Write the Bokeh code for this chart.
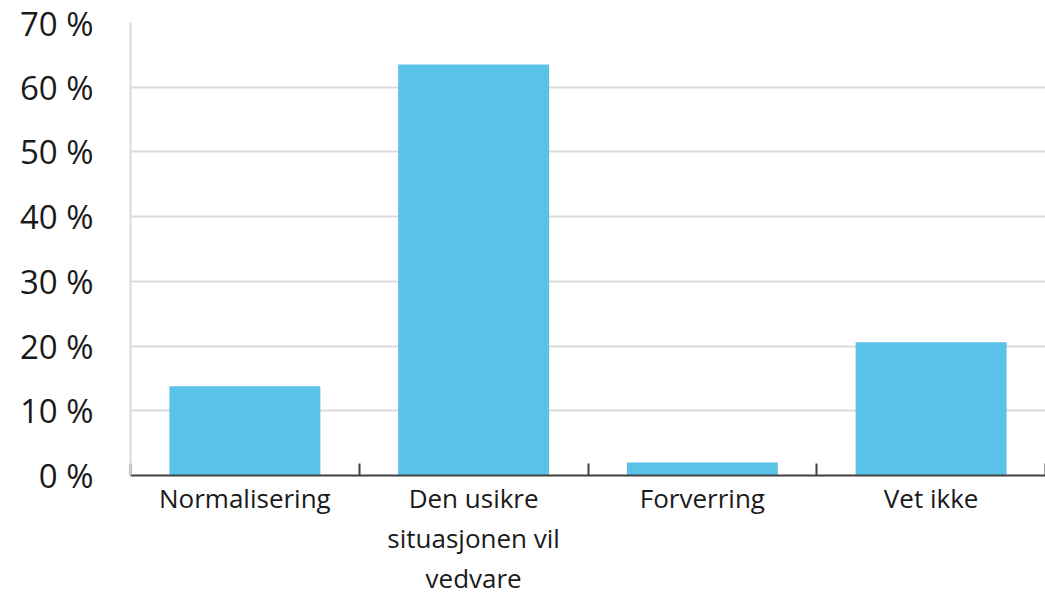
from bokeh.plotting import figure
from bokeh.models import Range1d, FixedTicker, CustomJSTickFormatter, ColumnDataSource
from bokeh.embed import file_html
from bokeh.resources import INLINE

categories = ["Normalisering", "Den usikre\nsituasjonen vil\nvedvare", "Forverring", "Vet ikke"]
values = [13.8, 63.5, 2.0, 20.6]
y_ticks = [0, 10, 20, 30, 40, 50, 60, 70]

FONT = "Open Sans"
TXT = "#1a1a1a"

n = len(categories)
centers = [i + 0.5 for i in range(n)]
bounds = list(range(n + 1))

p = figure(width=1045, height=599, output_backend="svg", toolbar_location=None,
           x_range=Range1d(0, n), y_range=Range1d(0, 70),
           min_border_left=130, min_border_right=0, min_border_top=22, min_border_bottom=124)
p.outline_line_color = None
p.background_fill_color = "white"
p.border_fill_color = "white"

src = ColumnDataSource(dict(x=centers, top=values))
p.vbar(x="x", top="top", width=0.66, bottom=0, source=src,
       fill_color="#5BC2E7", line_color=None)

# y axis
p.yaxis.ticker = FixedTicker(ticks=y_ticks)
p.yaxis.formatter = CustomJSTickFormatter(code="return tick.toFixed(0) + ' %'")
p.yaxis.axis_line_color = "#d9d9d9"
p.yaxis.axis_line_width = 2
p.yaxis.major_tick_line_color = None
p.yaxis.minor_tick_line_color = None
p.yaxis.major_label_standoff = 31
p.yaxis.major_label_text_font = FONT
p.yaxis.major_label_text_font_size = "33px"
p.yaxis.major_label_text_color = TXT

p.ygrid.ticker = FixedTicker(ticks=y_ticks)
p.ygrid.grid_line_color = "#dcdcdc"
p.ygrid.grid_line_width = 2
p.xgrid.grid_line_color = None

# x axis: labels at centres, ticks at category boundaries
p.xaxis.ticker = FixedTicker(ticks=centers, minor_ticks=bounds)
p.xaxis.formatter = CustomJSTickFormatter(args=dict(labels=categories),
                                          code="return labels[Math.floor(tick)]")
p.xaxis.axis_line_color = "#404040"
p.xaxis.axis_line_width = 2
p.xaxis.major_tick_line_color = None
p.xaxis.major_tick_out = 0
p.xaxis.major_tick_in = 0
p.xaxis.minor_tick_line_color = "#404040"
p.xaxis.minor_tick_line_width = 2
p.xaxis.minor_tick_in = 12
p.xaxis.minor_tick_out = 0
p.xaxis.major_label_standoff = 4
p.xaxis.major_label_text_font = FONT
p.xaxis.major_label_text_font_size = "26px"
p.xaxis.major_label_text_color = TXT
p.xaxis.major_label_text_line_height = 1.12

open("out.html", "w").write(file_html(p, INLINE))
